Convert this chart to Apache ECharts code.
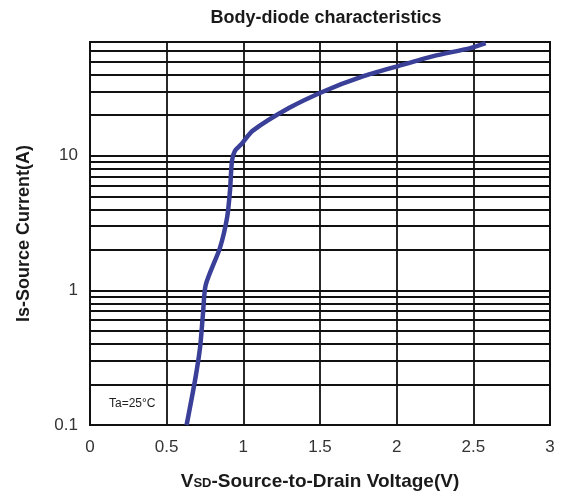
<!DOCTYPE html>
<html><head><meta charset="utf-8">
<script src="https://cdn.jsdelivr.net/npm/echarts@6/dist/echarts.min.js"></script>
<style>html,body{margin:0;padding:0;background:#fff}#c{width:568px;height:498px}</style>
</head><body><div id="c"></div>
<script>
const voltage = [0.630, 0.685, 0.718, 0.737, 0.755, 0.848, 0.894, 0.913, 0.926, 0.946, 0.99, 1.06, 1.30, 1.53, 1.77, 2.01, 2.24, 2.48, 2.58];
const current = [0.1, 0.215, 0.378, 0.675, 1.1, 2.08, 3.47, 5.5, 9.18, 10.9, 12.3, 15.3, 22.7, 30.3, 38.5, 46.4, 55, 63, 68.7];
const gridLevels = [0.2,0.3,0.4,0.5,0.6,0.7,0.8,0.9,1,2,3,4,5,6,7,8,9,10,20,30,40,50,60];
const xTicks = [0, 0.5, 1, 1.5, 2, 2.5, 3];
const titleText = 'Body-diode characteristics';
const noteText = 'Ta=25°C';

const chart = echarts.init(document.getElementById('c'));
chart.setOption({
  animation: false,
  backgroundColor: '#fff',
  title: {text: titleText, left: 321, top: 4, textAlign: 'center',
    textStyle: {fontFamily: 'Liberation Sans', fontSize: 18, fontWeight: 'bold', color: '#1a1a1a'}},
  grid: {left: 90, right: 18, top: 42, bottom: 73, show: true, borderColor: '#111', borderWidth: 2, backgroundColor: 'transparent'},
  xAxis: {type: 'value', min: xTicks[0], max: xTicks[xTicks.length-1], interval: 0.5,
    axisLine: {show: true, lineStyle: {color: '#111', width: 2}},
    axisTick: {show: false},
    splitLine: {show: true, lineStyle: {color: '#111', width: 1.8}},
    axisLabel: {margin: 14, fontFamily: 'Liberation Sans', fontSize: 17, color: '#333'},
    name: '{v|V}{s|SD}{v|-Source-to-Drain Voltage(V)}', nameLocation: 'middle', nameGap: 47,
    nameTextStyle: {rich: {
      v: {fontFamily: 'Liberation Sans', fontSize: 19, fontWeight: 'bold', color: '#1a1a1a'},
      s: {fontFamily: 'Liberation Sans', fontSize: 13, fontWeight: 'bold', color: '#1a1a1a', padding: [4,0,0,0]}}}
  },
  yAxis: {type: 'log', logBase: 10, min: 0.1, max: 70,
    axisLine: {show: true, lineStyle: {color: '#111', width: 2}},
    axisTick: {show: false},
    splitLine: {show: false},
    axisLabel: {margin: 12, fontFamily: 'Liberation Sans', fontSize: 17, color: '#333', showMaxLabel: false,
      formatter: v => (Math.abs(v - 70) < 1e-6 ? '' : String(+v.toPrecision(3)))},
    name: 'Is-Source Current(A)', nameLocation: 'middle', nameGap: 57,
    nameTextStyle: {fontFamily: 'Liberation Sans', fontSize: 18, fontWeight: 'bold', color: '#1a1a1a'}
  },
  graphic: [{type: 'text', left: 106, top: 396, z: 10,
    style: {text: noteText, fontFamily: 'Liberation Sans', fontSize: 12, fill: '#222', backgroundColor: '#fff', padding: [2,3]}}],
  series: [{
    type: 'line', data: voltage.map((v, i) => [v, current[i]]),
    showSymbol: false, smooth: 0.25, clip: true,
    lineStyle: {color: '#3a3f98', width: 4.5}, z: 5,
    markLine: {silent: true, symbol: ['none','none'], label: {show: false},
      lineStyle: {color: '#111', width: 1.8, type: 'solid'},
      data: gridLevels.map(g => ({yAxis: g})), z: 1}
  }]
});
</script></body></html>
